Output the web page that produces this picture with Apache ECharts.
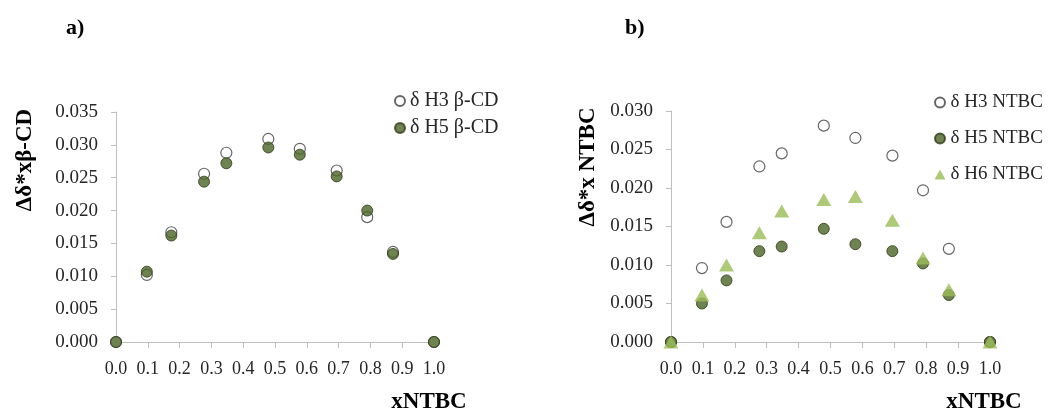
<!DOCTYPE html>
<html>
<head>
<meta charset="utf-8">
<script src="https://cdn.jsdelivr.net/npm/echarts@6/dist/echarts.min.js"></script>
<style>
  html, body { margin: 0; padding: 0; background: #fff; }
  #chart { width: 1048px; height: 412px; }
</style>
</head>
<body>
<div id="chart"></div>
<script>
// mole fraction of NTBC (same for both panels)
var xNTBC = [0.0, 0.097, 0.174, 0.277, 0.347, 0.479, 0.578, 0.694, 0.79, 0.871, 1.0];

// a) beta-CD protons
var h3CD = [0, 0.0102, 0.0167, 0.0256, 0.0288, 0.0309, 0.0294, 0.0261, 0.0190, 0.0137, 0];
var h5CD = [0, 0.0107, 0.0162, 0.0244, 0.0272, 0.0296, 0.0285, 0.0252, 0.0200, 0.0134, 0];

// b) NTBC protons
var h3NT = [0, 0.0096, 0.0156, 0.0228, 0.0245, 0.0281, 0.0265, 0.0242, 0.0197, 0.0121, 0];
var h5NT = [0, 0.0050, 0.0080, 0.0118, 0.0124, 0.0147, 0.0127, 0.0118, 0.0102, 0.0061, 0];
var h6NT = [0, 0.0061, 0.0100, 0.0142, 0.0170, 0.0185, 0.0189, 0.0158, 0.0109, 0.0068, 0];

function pairs(ys) {
  return xNTBC.map(function (x, i) { return [x, ys[i]]; });
}

var serif = 'Liberation Serif';
var axisGray = '#bfbfbf';
var textColor = '#262626';

function xAxisCfg(gridIndex) {
  return {
    type: 'value', gridIndex: gridIndex,
    min: 0, max: 1, interval: 0.1,
    axisLine: { show: true, lineStyle: { color: axisGray } },
    axisTick: { show: true, length: 6, lineStyle: { color: axisGray } },
    splitLine: { show: false },
    axisLabel: {
      margin: 18, color: textColor, fontFamily: serif, fontSize: 18,
      formatter: function (v) { return v.toFixed(1); }
    }
  };
}

function yAxisCfg(gridIndex, max) {
  return {
    type: 'value', gridIndex: gridIndex,
    min: 0, max: max, interval: 0.005,
    axisLine: { show: true, lineStyle: { color: axisGray } },
    axisTick: { show: true, length: 5, lineStyle: { color: axisGray } },
    splitLine: { show: false },
    axisLabel: {
      margin: 18, color: textColor, fontFamily: serif, fontSize: 19,
      formatter: function (v) { return v.toFixed(3); }
    }
  };
}

var hollow = { color: '#ffffff', borderColor: '#404040', borderWidth: 1.2 };
var filled = { color: '#4b6326', borderColor: '#2e3a17', borderWidth: 1 };
var tri = { color: '#9bbb59', borderWidth: 0 };

var myChart = echarts.init(document.getElementById('chart'));

var option = {
  animation: false,
  backgroundColor: '#ffffff',
  grid: [
    { left: 116, top: 112, width: 318, height: 230 },
    { left: 671, top: 111, width: 319, height: 231 }
  ],
  xAxis: [xAxisCfg(0), xAxisCfg(1)],
  yAxis: [yAxisCfg(0, 0.035), yAxisCfg(1, 0.030)],
  legend: [
    {
      data: ['δ H3 β-CD', 'δ H5 β-CD'],
      orient: 'vertical', left: 389, top: 86,
      itemWidth: 10, itemHeight: 10, itemGap: 7,
      textStyle: { fontFamily: serif, fontSize: 20, color: textColor }
    },
    {
      data: ['δ H3 NTBC', 'δ H5 NTBC', 'δ H6 NTBC'],
      orient: 'vertical', left: 929, top: 88,
      itemWidth: 11, itemHeight: 10, itemGap: 17,
      textStyle: { fontFamily: serif, fontSize: 19, color: textColor }
    }
  ],
  graphic: [
    { type: 'text', left: 66, top: 17, style: { text: 'a)', font: 'bold 22px "Liberation Serif"', fill: '#000' } },
    { type: 'text', left: 625, top: 17, style: { text: 'b)', font: 'bold 22px "Liberation Serif"', fill: '#000' } },
    { type: 'text', x: 25, y: 160, rotation: Math.PI / 2,
      style: { text: 'Δδ*xβ-CD', font: 'bold 23px "Liberation Serif"', fill: '#000', align: 'center', verticalAlign: 'middle' } },
    { type: 'text', x: 588, y: 167, rotation: Math.PI / 2,
      style: { text: 'Δδ*x NTBC', font: 'bold 23px "Liberation Serif"', fill: '#000', align: 'center', verticalAlign: 'middle' } },
    { type: 'text', x: 429, y: 402,
      style: { text: 'xNTBC', font: 'bold 23px "Liberation Serif"', fill: '#000', align: 'center', verticalAlign: 'middle' } },
    { type: 'text', x: 984, y: 402,
      style: { text: 'xNTBC', font: 'bold 23px "Liberation Serif"', fill: '#000', align: 'center', verticalAlign: 'middle' } }
  ],
  series: [
    { name: 'δ H3 β-CD', type: 'scatter', xAxisIndex: 0, yAxisIndex: 0, clip: false,
      symbol: 'circle', symbolSize: 11, itemStyle: hollow, data: pairs(h3CD) },
    { name: 'δ H5 β-CD', type: 'scatter', xAxisIndex: 0, yAxisIndex: 0, clip: false,
      symbol: 'circle', symbolSize: 11, itemStyle: filled, data: pairs(h5CD) },
    { name: 'δ H3 NTBC', type: 'scatter', xAxisIndex: 1, yAxisIndex: 1, clip: false,
      symbol: 'circle', symbolSize: 11, itemStyle: hollow, data: pairs(h3NT) },
    { name: 'δ H5 NTBC', type: 'scatter', xAxisIndex: 1, yAxisIndex: 1, clip: false,
      symbol: 'circle', symbolSize: 11, itemStyle: filled, data: pairs(h5NT) },
    { name: 'δ H6 NTBC', type: 'scatter', xAxisIndex: 1, yAxisIndex: 1, clip: false,
      symbol: 'triangle', symbolSize: [15, 13], itemStyle: tri, data: pairs(h6NT) }
  ]
};

myChart.setOption(option);
</script>
</body>
</html>
